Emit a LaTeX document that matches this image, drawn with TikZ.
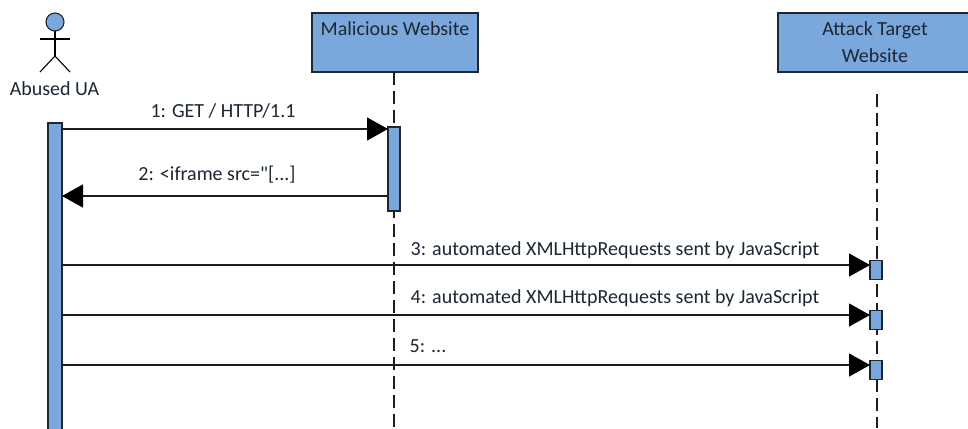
\documentclass[tikz,border=0pt]{standalone}
\usepackage{fontspec}
\newfontfamily\carl{Carlito}
\usetikzlibrary{arrows.meta}
\definecolor{boxblue}{HTML}{7AA8DC}
\definecolor{inkdark}{HTML}{1C2733}
\definecolor{linedark}{HTML}{1E1E1E}
\tikzset{
  every node/.style={font=\carl\fontsize{20}{27}\selectfont,text=inkdark},
  lifebox/.style={draw=inkdark,line width=1.4pt,fill=boxblue,rectangle,inner sep=0pt,outer sep=0pt,align=center,minimum height=59pt},
  actbar/.style={draw=inkdark,line width=1.3pt,fill=boxblue,rectangle,inner sep=0pt,outer sep=0pt,minimum width=12pt},
  lifeline/.style={draw=linedark,line width=1.4pt,dash pattern=on 13pt off 6pt},
  msg/.style={draw=linedark,line width=1.3pt,-{Triangle[length=21pt,width=23pt,color=black]},shorten >=0pt},
  stick/.style={draw=black,line width=1.1pt},
  msglabel/.style={inner sep=0pt}
}
\begin{document}
\begin{tikzpicture}[x=1pt,y=-1pt]
\useasboundingbox (0,0) rectangle (968,428);
\clip (0,0) rectangle (968,428);
\fill[white] (0,0) rectangle (968,428);
% lifeline heads
\node[lifebox,minimum width=166pt] (mal) at (395,42.5) {Malicious Website\\ ~};
\node[lifebox,minimum width=198pt] (tgt) at (877,42.5) {\hspace*{-4pt}Attack Target\\\hspace*{-4pt}Website};
% lifeline ends
\coordinate (malend) at (394,428);
\coordinate (tgttop) at (877,94);
\coordinate (tgtend) at (877,428);
\draw[lifeline] (394,72) -- (malend);
\draw[lifeline] (tgttop) -- (tgtend);
% actor
\node[draw=inkdark,line width=1.1pt,fill=boxblue,circle,minimum size=18pt,inner sep=0pt,outer sep=0pt] (head) at (55,22) {};
\coordinate (hip) at (55,56);
\coordinate (arml) at (40,39);
\coordinate (armr) at (70,39);
\coordinate (legl) at (40,72);
\coordinate (legr) at (70,72);
\draw[stick] (head.south) -- (hip);
\draw[stick] (arml) -- (armr);
\draw[stick] (legl) -- (hip) -- (legr);
\node (ualabel) at (54.5,89) {Abused UA};
% activation bars
\node[actbar,minimum width=14pt,minimum height=310pt] (uabar) at (55,278) {};
\node[actbar,minimum height=84pt] (malbar) at (394,169) {};
\node[actbar,minimum height=19pt] (t1) at (876,270) {};
\node[actbar,minimum height=19pt] (t2) at (876,320) {};
\node[actbar,minimum height=19pt] (t3) at (876,370) {};
% messages
\draw[msg] (uabar.east |- 0,129) -- (malbar.west |- 0,129);
\draw[msg] (malbar.west |- 0,196) -- (uabar.east |- 0,196);
\draw[msg] (uabar.east |- 0,265) -- (t1.west |- 0,265);
\draw[msg] (uabar.east |- 0,315) -- (t2.west |- 0,315);
\draw[msg] (uabar.east |- 0,365) -- (t3.west |- 0,365);
% labels
\node[msglabel] (l1) at (223,111) {1: GET / HTTP/1.1};
\node[msglabel] (l2) at (217,175) {2: <iframe src="[...]};
\node[msglabel] (l3) at (615,250) {3: automated XMLHttpRequests sent by JavaScript};
\node[msglabel] (l4) at (615,298) {4: automated XMLHttpRequests sent by JavaScript};
\node[msglabel] (l5) at (428,346) {5: ...};
\end{tikzpicture}
\end{document}
